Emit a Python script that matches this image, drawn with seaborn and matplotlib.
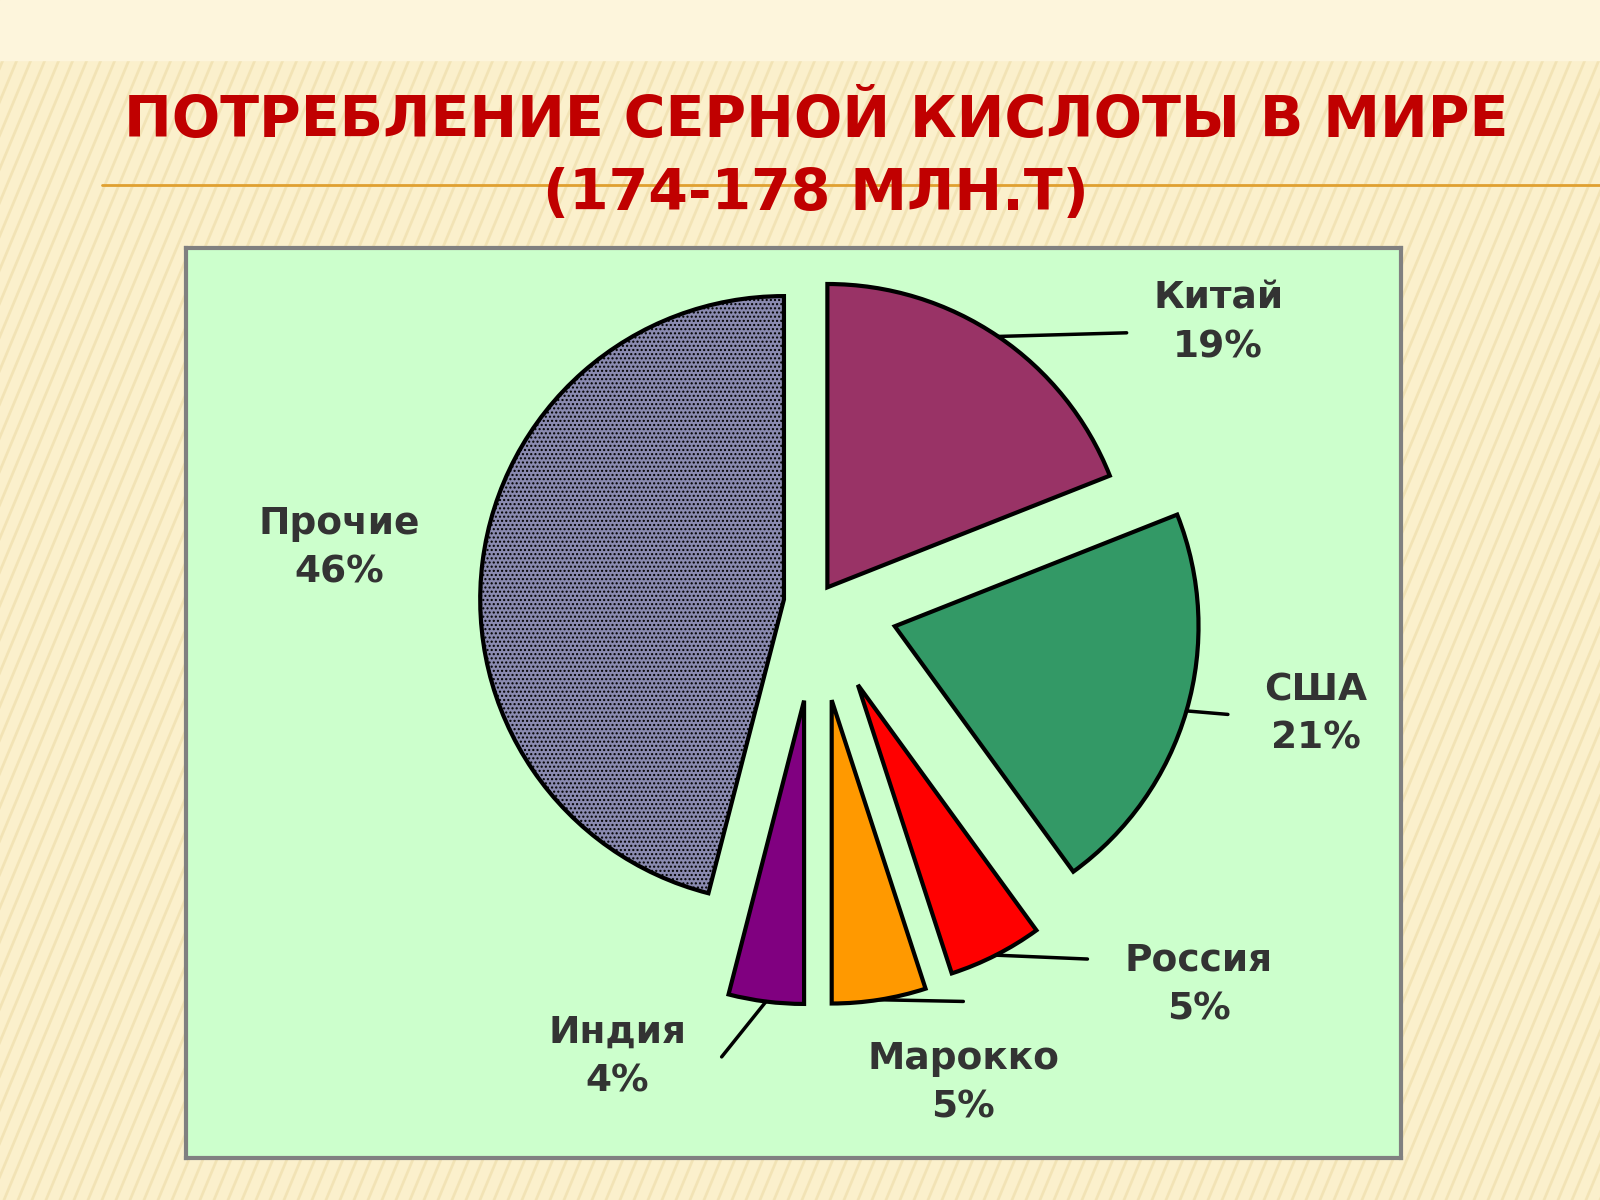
import matplotlib
matplotlib.use("Agg")
import matplotlib.pyplot as plt
import seaborn as sns
import numpy as np
from matplotlib.patches import Rectangle

sns.set_theme(style="white")
plt.rcParams['font.family'] = ['DejaVu Sans']

labels = ["Китай", "США", "Россия", "Марокко", "Индия", "Прочие"]
values = [19, 21, 5, 5, 4, 46]
colors = ["#993366", "#339966", "#FF0000", "#FF9900", "#800080", "#8A8AB0"]
explode = [0.06, 0.25, 0.28, 0.3, 0.3, 0.1]
label_pos = [(1.23, 0.86), (1.53, -0.34), (1.17, -1.17), (0.45, -1.47), (-0.61, -1.39), (-1.46, 0.17)]
leader_end = [(-0.28, -0.03), (-0.27, 0.0), (-0.34, 0.08), (0.0, 0.25), (0.32, 0.0), None]

fig = plt.figure(figsize=(16, 12), dpi=100)
fig.patch.set_facecolor("#FBF0CC")
bg = fig.add_axes([0, 0, 1, 1]); bg.set_axis_off(); bg.set_xlim(0, 1600); bg.set_ylim(1200, 0)
for x0 in np.arange(-1200, 1700, 14):
    bg.plot([x0, x0 + 500], [1200, 0], color="#EAD7A0", lw=2, alpha=0.5)
bg.add_patch(Rectangle((0, 0), 1600, 60, color="#FDF5DC", zorder=2))
bg.plot([102, 1600], [185, 185], color="#E0A030", lw=2, zorder=3)
bg.text(816, 122, "ПОТРЕБЛЕНИЕ СЕРНОЙ КИСЛОТЫ В МИРЕ", ha="center", va="center",
        fontsize=41, fontweight="bold", color="#C00000", zorder=4)
bg.text(816, 194, "(174-178 МЛН.Т)", ha="center", va="center",
        fontsize=41, fontweight="bold", color="#C00000", zorder=4)

ax = fig.add_axes([186/1600, 42/1200, 1215/1600, 910/1200])
wedges, _ = ax.pie(values, colors=colors, explode=explode, startangle=90, counterclock=False,
                   wedgeprops=dict(edgecolor="black", linewidth=3), radius=0.93, frame=True)
wedges[5].set_hatch("....")
ax.set_facecolor("#CCFFCC")
for s in ax.spines.values():
    s.set_visible(True); s.set_color("#808080"); s.set_linewidth(3)
ax.set_xlim(-1.93, 1.79); ax.set_ylim(-1.70, 1.09)
ax.set_aspect("equal", adjustable="datalim"); ax.set_xticks([]); ax.set_yticks([])

for w, lab, v, (lx, ly), le in zip(wedges, labels, values, label_pos, leader_end):
    ang = np.deg2rad((w.theta1 + w.theta2) / 2)
    cx, cy = w.center
    ex_x, ex_y = cx + w.r * np.cos(ang), cy + w.r * np.sin(ang)
    ax.text(lx, ly, f"{lab}\n{v}%", ha="center", va="center", fontsize=27,
            fontweight="bold", color="#333333", linespacing=1.45)
    if le is not None:
        ax.plot([ex_x, lx + le[0]], [ex_y, ly + le[1]], color="black", lw=2.5)

fig.savefig("out.png", dpi=100)
